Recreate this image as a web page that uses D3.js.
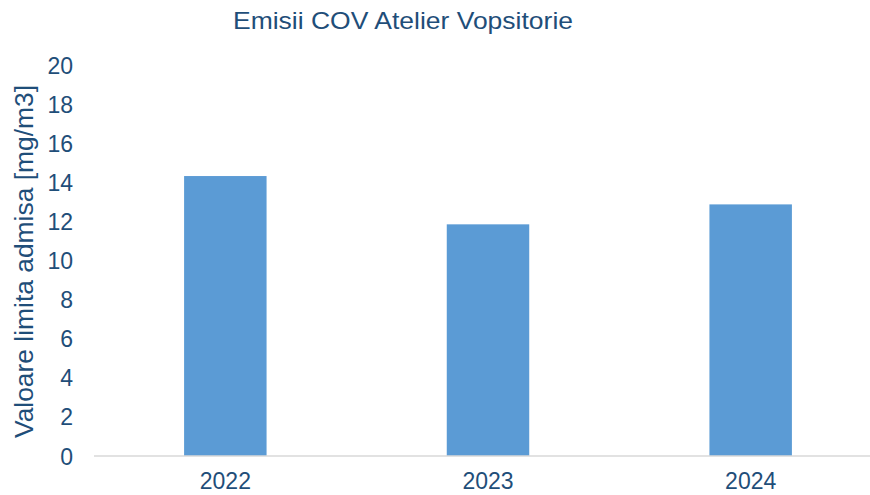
<!DOCTYPE html>
<html>
<head>
<meta charset="utf-8">
<script src="https://cdn.jsdelivr.net/npm/d3@7"></script>
<style>
  body { margin: 0; background: #fff; }
  text { font-family: "Liberation Sans", Arial, sans-serif; }
</style>
</head>
<body>
<svg id="chart" width="870" height="495"></svg>
<script>
const years = ["2022", "2023", "2024"];
const values = [14.32, 11.85, 12.87];
const yTicks = [0, 2, 4, 6, 8, 10, 12, 14, 16, 18, 20];

const WIDTH = 870, HEIGHT = 495;
const margin = { left: 94, right: -12, top: 65, bottom: 39 };
const textColor = "#1f4e79";

const svg = d3.select("#chart");

const x = d3.scaleBand()
  .domain(years)
  .range([margin.left, WIDTH - margin.right])
  .paddingInner(0.686)
  .paddingOuter(0.343);

const y = d3.scaleLinear()
  .domain([0, 20])
  .range([HEIGHT - margin.bottom, margin.top]);

// bars
svg.append("g")
  .selectAll("rect")
  .data(years.map((d, i) => ({ year: d, value: values[i] })))
  .join("rect")
  .attr("x", d => x(d.year))
  .attr("y", d => y(d.value))
  .attr("width", x.bandwidth())
  .attr("height", d => y(0) - y(d.value))
  .attr("fill", "#5b9bd5");

// baseline
svg.append("line")
  .attr("x1", margin.left)
  .attr("x2", WIDTH)
  .attr("y1", y(0))
  .attr("y2", y(0))
  .attr("stroke", "#d9d9d9")
  .attr("stroke-width", 1.5);

// y axis labels
const yAxis = svg.append("g")
  .attr("transform", `translate(${margin.left - 21},0)`)
  .call(d3.axisLeft(y).tickValues(yTicks).tickSize(0).tickPadding(0));
yAxis.select(".domain").remove();
yAxis.selectAll("text")
  .attr("font-size", 23)
  .attr("fill", textColor)
  .attr("dy", "0.35em");

// x axis labels (kept just inside the bottom edge)
const xAxis = svg.append("g")
  .attr("transform", `translate(0,${y(0)})`)
  .call(d3.axisBottom(x).tickSize(0).tickPadding(17));
xAxis.select(".domain").remove();
xAxis.selectAll("text")
  .attr("font-size", 23)
  .attr("fill", textColor);

// title
svg.append("text")
  .attr("x", 233)
  .attr("y", 29)
  .attr("font-size", 24.5)
  .attr("textLength", 340)
  .attr("lengthAdjust", "spacingAndGlyphs")
  .attr("fill", textColor)
  .text("Emisii COV Atelier Vopsitorie");

// y axis title
svg.append("text")
  .attr("transform", `translate(33,438) rotate(-90)`)
  .attr("font-size", 26.5)
  .attr("textLength", 353)
  .attr("lengthAdjust", "spacingAndGlyphs")
  .attr("fill", textColor)
  .text("Valoare limita admisa [mg/m3]");
</script>
</body>
</html>
